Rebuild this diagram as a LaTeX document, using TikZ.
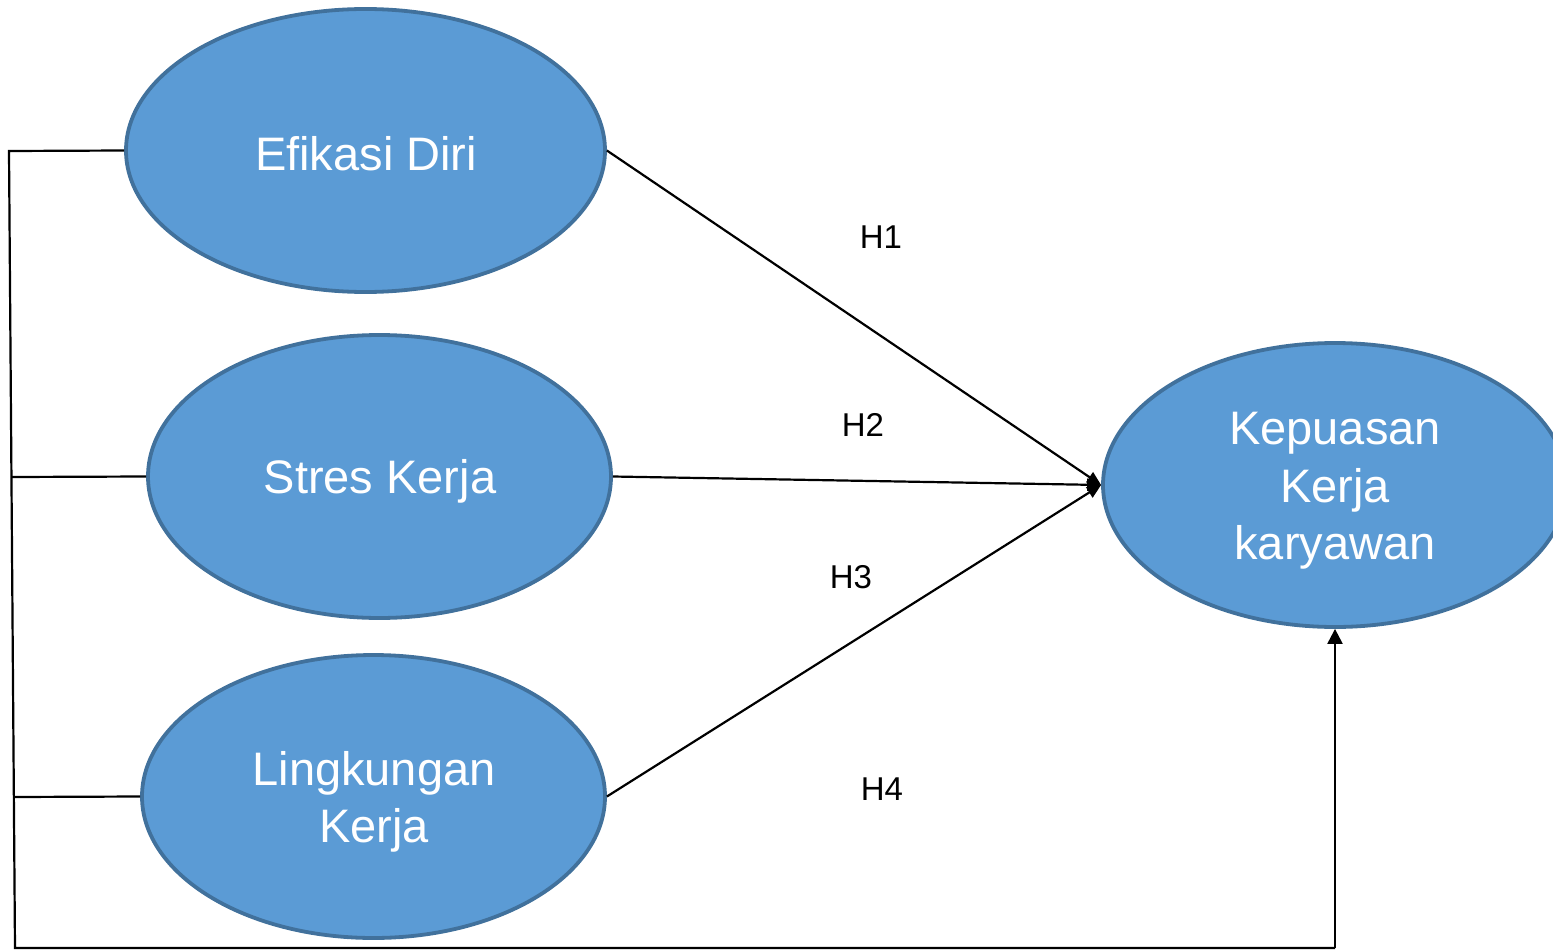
\documentclass[tikz,border=0pt]{standalone}
\usepackage{fontspec}
\setmainfont{Liberation Sans}
\usetikzlibrary{shapes.geometric,arrows.meta}
\definecolor{bfill}{HTML}{5B9BD5}
\definecolor{bdraw}{HTML}{41719C}
\begin{document}
\begin{tikzpicture}[x=1pt,y=-1pt,
  var/.style={ellipse,draw=bdraw,fill=bfill,line width=3.8pt,inner sep=0pt},
  vtext/.style={text=white,font=\fontsize{47}{57.5}\selectfont,align=center,inner sep=0pt},
  conn/.style={line width=2.2pt,black},
  hlab/.style={font=\fontsize{33}{40}\selectfont,inner sep=0pt}]
\useasboundingbox (0,0) rectangle (1553,950);
\clip (0,0) rectangle (1553,950);
\node[var,minimum width=479pt,minimum height=283pt] (ed) at (365.5,150.5) {};
\node[var,minimum width=463pt,minimum height=283pt] (sk) at (379.5,476.5) {};
\node[var,minimum width=463pt,minimum height=283pt] (lk) at (373.5,796.5) {};
\node[var,minimum width=464pt,minimum height=284pt] (kk) at (1335,485) {};
\node[vtext] (edt) at (366,154) {Efikasi Diri};
\node[vtext] (skt) at (380,481) {Stres Kerja};
\node[vtext] (lkt) at (374,802) {Lingkungan\\Kerja};
\node[vtext] (kkt) at (1335,491) {Kepuasan\\Kerja\\karyawan};
\coordinate (a) at (9,151);
\coordinate (b) at (11.5,477);
\coordinate (c) at (13.9,797);
\coordinate (d) at (15,948);
\coordinate (e) at (1335,948);
\draw[conn,-{Triangle[width=12pt,length=14pt]}] (ed.east) -- (kk.west);
\draw[conn,-{Triangle[width=12pt,length=14pt]}] (sk.east) -- (kk.west);
\draw[conn,-{Triangle[width=12pt,length=14pt]}] (lk.east) -- (kk.west);
\draw[conn] (ed.west) -- (a) -- (d) -- (e);
\draw[conn] (sk.west) -- (b);
\draw[conn] (lk.west) -- (c);
\draw[conn,-{Triangle[width=15pt,length=15pt]}] (e) -- (kk.south);
\node[hlab] (h1) at (881,237) {H1};
\node[hlab] (h2) at (863,425) {H2};
\node[hlab] (h3) at (851,577) {H3};
\node[hlab] (h4) at (882,789) {H4};
\end{tikzpicture}
\end{document}
